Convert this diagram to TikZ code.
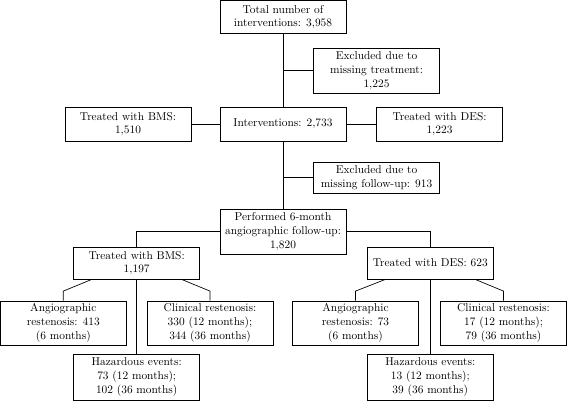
\documentclass[tikz,border=0pt]{standalone}
\usetikzlibrary{calc}
\begin{document}
\begin{tikzpicture}[x=0.878pt,y=-0.878pt,
  box/.style={draw, line width=0.75pt, align=center, inner sep=0pt,
    minimum width=110.6pt, font=\fontsize{10}{12}\selectfont},
  link/.style={line width=0.6pt}]
\useasboundingbox (0,0) rectangle (567,401);
% row 1
\node[box,minimum height=28.5pt] (total) at (283,17) {Total number of\\interventions: 3,958};
\node[box,minimum height=39.5pt] (excl1) at (376.5,70.5) {Excluded due to\\missing treatment:\\1,225};
% row 2
\node[box,minimum height=29.9pt] (bms1) at (128,124) {Treated with BMS:\\1,510};
\node[box,minimum height=29.9pt] (int) at (283,124) {Interventions: 2,733};
\node[box,minimum height=29.9pt] (des1) at (439.5,124) {Treated with DES:\\1,223};
% exclusion 2
\node[box,minimum height=27.7pt] (excl2) at (376.5,177.7) {Excluded due to\\missing follow-up: 913};
% row 3
\node[box,minimum height=39.5pt] (perf) at (283,231.5) {Performed 6-month\\angiographic follow-up:\\1,820};
\node[box,minimum height=28.1pt] (bms2) at (136.7,263) {Treated with BMS:\\1,197};
\node[box,minimum height=28.1pt] (des2) at (430.3,263) {Treated with DES: 623};
% row 4
\node[box,minimum height=38.6pt] (angL) at (63.3,323) {Angiographic\\restenosis: 413\\(6 months)};
\node[box,minimum height=38.6pt] (clinL) at (210,323) {Clinical restenosis:\\330 (12 months);\\344 (36 months)};
\node[box,minimum height=38.6pt] (angR) at (355.5,323) {Angiographic\\restenosis: 73\\(6 months)};
\node[box,minimum height=38.6pt] (clinR) at (503.5,323) {Clinical restenosis:\\17 (12 months);\\79 (36 months)};
% row 5
\node[box,minimum height=40.4pt] (hazL) at (136.7,377) {Hazardous events:\\73 (12 months);\\102 (36 months)};
\node[box,minimum height=40.4pt] (hazR) at (430.3,377) {Hazardous events:\\13 (12 months);\\39 (36 months)};
% connectors
\draw[link] (total) -- (int);
\coordinate (j1) at (total.south |- excl1.west);
\draw[link] (j1) -- (excl1.west);
\draw[link] (int) -- (bms1);
\draw[link] (int) -- (des1);
\draw[link] (int) -- (perf);
\coordinate (j2) at (int.south |- excl2.west);
\draw[link] (j2) -- (excl2.west);
\draw[link] (perf.west) -| (bms2.north);
\draw[link] (perf.east) -| (des2.north);
\draw[link] ($(bms2.south)+(-45,0)$) -- ($(angL.north)+(0,-9.5)$) -- (angL.north);
\draw[link] ($(bms2.south)+(45,0)$) -- ($(clinL.north)+(0,-9.5)$) -- (clinL.north);
\draw[link] (bms2) -- (hazL);
\draw[link] ($(des2.south)+(-45,0)$) -- ($(angR.north)+(0,-9.5)$) -- (angR.north);
\draw[link] ($(des2.south)+(45,0)$) -- ($(clinR.north)+(0,-9.5)$) -- (clinR.north);
\draw[link] (des2) -- (hazR);
\end{tikzpicture}
\end{document}
